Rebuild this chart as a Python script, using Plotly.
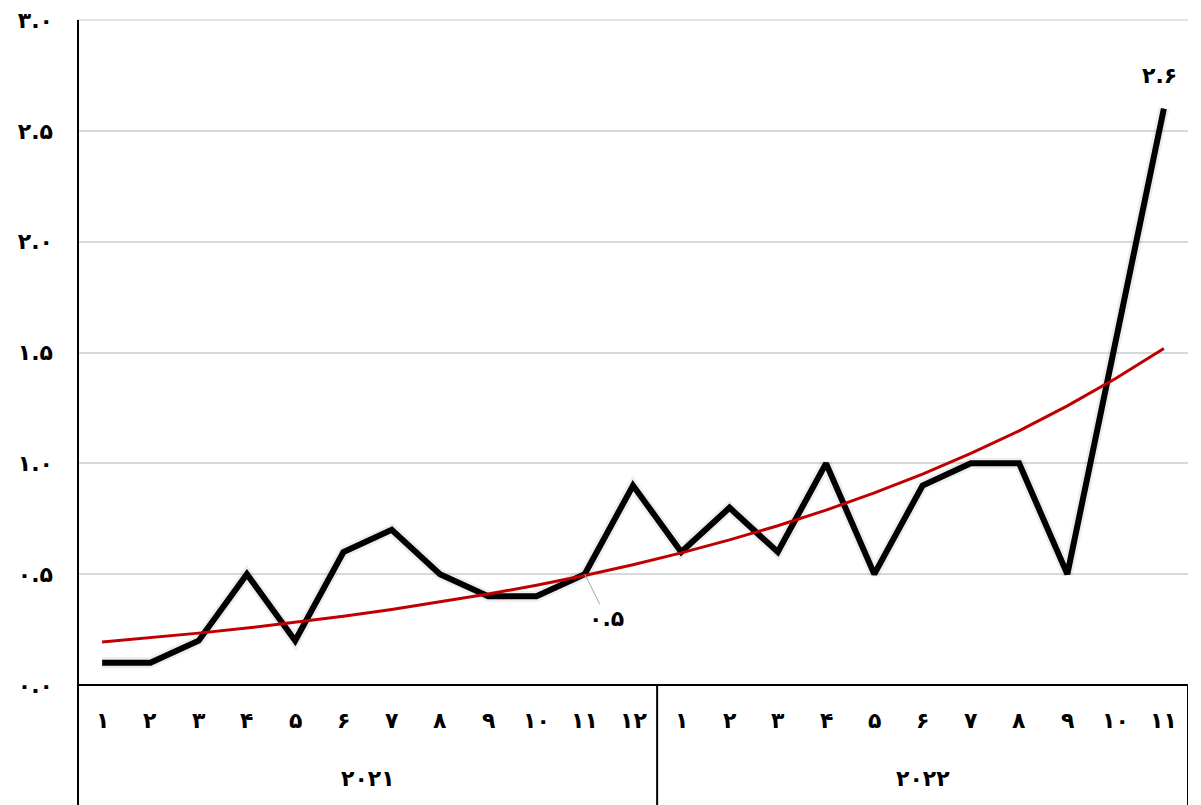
import numpy as np
import plotly.graph_objects as go

# ---- data ----
months_2021 = ["۱", "۲", "۳", "۴", "۵", "۶", "۷", "۸", "۹", "۱۰", "۱۱", "۱۲"]
months_2022 = ["۱", "۲", "۳", "۴", "۵", "۶", "۷", "۸", "۹", "۱۰", "۱۱"]
years = ["۲۰۲۱", "۲۰۲۲"]
values = [0.1, 0.1, 0.2, 0.5, 0.2, 0.6, 0.7, 0.5, 0.4, 0.4, 0.5, 0.9,
          0.6, 0.8, 0.6, 1.0, 0.5, 0.9, 1.0, 1.0, 0.5, 1.55, 2.6]
y_tickvals = [0, 0.5, 1.0, 1.5, 2.0, 2.5, 3.0]
y_ticktext = ["۰.۰", "۰.۵", "۱.۰", "۱.۵", "۲.۰", "۲.۵", "۳.۰"]
label_11 = "۰.۵"
label_last = "۲.۶"

FONT = "DejaVu Sans"
FS = 22
n = len(values)
x = np.arange(n)
vals = np.array(values)

# exponential trendline (least squares on log values, like a spreadsheet trendline)
b, a = np.polyfit(x + 1, np.log(vals), 1)
trend = np.exp(a + b * (x + 1))

fig = go.Figure()
# soft shadow
fig.add_trace(go.Scatter(x=x, y=vals, mode="lines",
                         line=dict(color="rgba(0,0,0,0.07)", width=11),
                         hoverinfo="skip", showlegend=False))
fig.add_trace(go.Scatter(x=x, y=vals, mode="lines",
                         line=dict(color="#000000", width=6),
                         showlegend=False))
fig.add_trace(go.Scatter(x=x, y=trend, mode="lines",
                         line=dict(color="#c00000", width=3),
                         showlegend=False))

fig.update_layout(
    width=1201, height=805,
    margin=dict(l=78, r=13, t=20, b=120, autoexpand=False),
    plot_bgcolor="white", paper_bgcolor="white",
    font=dict(family=FONT, size=FS, color="black"),
)
fig.update_xaxes(range=[-0.5, n - 0.5], showticklabels=False, showgrid=False,
                 zeroline=False, showline=False, ticks="", automargin=False)
fig.update_yaxes(range=[0, 3.0], tickvals=y_tickvals, ticktext=y_ticktext,
                 showgrid=True, gridcolor="#d9d9d9", gridwidth=1.5,
                 zeroline=False, showline=False, ticks="", automargin=False,
                 ticklabelstandoff=24, ticklabeloverflow="allow",
                 tickfont=dict(family=FONT, size=FS, color="black", weight="bold"))

shapes = []
line_style = dict(color="black", width=2)
# top gridline
shapes.append(dict(type="line", xref="paper", yref="paper", x0=0, x1=1, y0=1, y1=1,
                   line=dict(color="#d9d9d9", width=1.5)))
# left axis line extends down through category area
shapes.append(dict(type="line", xref="paper", yref="paper", x0=0, x1=0, y0=1, y1=-0.2, line=line_style))
# bottom axis line
shapes.append(dict(type="line", xref="paper", yref="paper", x0=0, x1=1, y0=0, y1=0, line=line_style))
# separator between years and right edge
sep = len(months_2021) - 0.5
shapes.append(dict(type="line", xref="x", yref="paper", x0=sep, x1=sep, y0=0, y1=-0.2, line=line_style))
shapes.append(dict(type="line", xref="x", yref="paper", x0=n - 0.5, x1=n - 0.5, y0=0, y1=-0.2, line=line_style))
fig.update_layout(shapes=shapes)

ann = []
all_months = months_2021 + months_2022
for i, m in enumerate(all_months):
    ann.append(dict(x=i, y=-0.053, xref="x", yref="paper", text=m, showarrow=False,
                    font=dict(family=FONT, size=FS, weight="bold"), yanchor="middle"))
centers = [(len(months_2021) - 1) / 2, len(months_2021) + (len(months_2022) - 1) / 2]
for c, yr in zip(centers, years):
    ann.append(dict(x=c, y=-0.14, xref="x", yref="paper", text=yr, showarrow=False,
                    font=dict(family=FONT, size=FS, weight="bold"), yanchor="middle"))
# data labels
ann.append(dict(x=10, y=values[10], xref="x", yref="y", text=label_11,
                showarrow=True, arrowhead=0, arrowwidth=1, arrowcolor="#a6a6a6",
                ax=22, ay=44, font=dict(family=FONT, size=FS, weight="bold")))
ann.append(dict(x=n - 1, y=values[-1], xref="x", yref="y", text=label_last,
                showarrow=False, yshift=33, xshift=-4,
                font=dict(family=FONT, size=FS, weight="bold")))
fig.update_layout(annotations=ann)

fig.write_html("out.html", config={"displayModeBar": False},
               post_script="document.body.style.margin='0';")
